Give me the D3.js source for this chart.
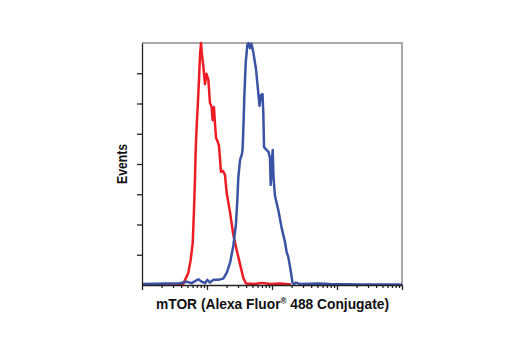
<!DOCTYPE html>
<html>
<head>
<meta charset="utf-8">
<script src="https://cdn.jsdelivr.net/npm/d3@7"></script>
<style>
  body { margin: 0; background: #fff; }
  svg { display: block; }
</style>
</head>
<body>
<div id="chart"></div>
<script>
// red histogram (control), fluorescence intensity vs events
var redX = [1, 4.27, 5.15, 5.61, 6.03, 6.31, 6.54, 6.70, 6.95, 7.19, 7.53, 7.80, 8.09, 8.38, 8.77, 9.31, 9.82,
  10.5, 11.1, 11.8, 12.2, 12.8, 13.3, 13.8, 14.5, 15.3, 15.8, 16.4, 17.6, 18.9, 20.1, 22.6, 25.4, 28.6,
  32.2, 36.2, 39.8, 54.7, 70.2, 93.1, 133, 196];
var redY = [0.2, 0.2, 4.0, 8.3, 13.9, 24.8, 35.7, 44.6, 52.9, 58.8, 67.8, 76.0, 80, 76.0, 72.4, 66.4, 69.8,
  67.8, 60.2, 58.8, 54.5, 58.8, 52.9, 48.6, 47.6, 46.0, 42.0, 37.4, 37.7, 36.4, 30.4, 24.1, 16.5, 11.6,
  6.9, 2.3, 0.5, 0.3, 0.7, 0.3, 0.5, 0.2];

// blue histogram (mTOR Alexa Fluor 488)
var blueX = [1, 3.84, 4.87, 5.82, 7.35, 8.28, 9.31, 10.1, 11.1, 12.5, 14.9, 17.8, 20.1, 22.6, 25.4, 27.9,
  29.3, 30.3, 32.2, 34.2, 35.2, 36.2, 37.5, 39.4, 41.7, 43.5, 45.9, 48.4, 51.5, 56.7, 60.3, 64.2, 67.7,
  71.4, 73.5, 75.4, 82.9, 88.3, 93.1, 95.5, 98.9, 102.5, 105.5, 111.3, 125, 141, 158.5, 168, 178, 193,
  207, 218, 234, 270, 510, 780, 2260, 10000];
var blueY = [0.3, 0.6, 1.1, 0.6, 1.9, 1.1, 0.6, 1.7, 0.8, 1.7, 1.7, 2.1, 4.0, 7.3, 12.9, 20.2,
  28.1, 35.4, 41.3, 43.0, 44.6, 51.2, 62.1, 73.4, 79.3, 80, 78.3, 79.7, 77.0, 71.4, 65.5, 59.2, 62.8,
  63.1, 56.9, 45.6, 44.6, 44.0, 42.0, 33.1, 39.7, 44.6, 35.4, 29.4, 24.8, 18.8, 14.2, 10.9, 9.3, 5.0,
  0.7, 0.3, 0.8, 0.3, 0.5, 0.3, 0.2, 0.2];

var yTicks = [10, 20, 30, 40, 50, 60, 70];

var margin = {top: 43, right: 118, bottom: 65, left: 142},
    width = 520 - margin.left - margin.right,
    height = 350 - margin.top - margin.bottom;

var svg = d3.select("#chart")
  .append("svg")
    .attr("width", 520)
    .attr("height", 350)
  .append("g")
    .attr("transform", "translate(" + margin.left + "," + margin.top + ")");

var x = d3.scaleLog()
    .domain([1, 10000])
    .range([0, width]);

var y = d3.scaleLinear()
    .domain([0, 80])
    .range([height, 0]);

// frame top + right in grey
svg.append("path")
    .attr("d", "M0,0H" + width + "V" + height)
    .attr("fill", "none")
    .attr("stroke", "#8c8c8c")
    .attr("stroke-width", 1.5);

var line = d3.line()
    .x(function(d) { return x(d[0]); })
    .y(function(d) { return y(d[1]); });

svg.append("path")
    .datum(redX.map(function(v, i) { return [v, redY[i]]; }))
    .attr("fill", "none")
    .attr("stroke", "#ed1c24")
    .attr("stroke-width", 2.5)
    .attr("stroke-linejoin", "round")
    .attr("d", line);

svg.append("path")
    .datum(blueX.map(function(v, i) { return [v, blueY[i]]; }))
    .attr("fill", "none")
    .attr("stroke", "#3a53a4")
    .attr("stroke-width", 2.5)
    .attr("stroke-linejoin", "round")
    .attr("d", line);

// y axis
var yAxis = svg.append("g")
    .call(d3.axisLeft(y).tickValues(yTicks).tickSize(5).tickSizeOuter(0).tickFormat(""));

// x axis, log ticks, decades longer
var xAxis = svg.append("g")
    .attr("transform", "translate(0," + height + ")")
    .call(d3.axisBottom(x).tickSize(3).tickSizeOuter(0).tickFormat(""));
xAxis.selectAll(".tick line")
    .attr("y2", function(d) { return Math.abs(Math.log10(d) % 1) < 1e-9 ? 5 : 3; });

svg.selectAll(".domain, .tick line")
    .attr("stroke", "#222")
    .attr("stroke-width", 1.3);

// axis labels
svg.append("text")
    .attr("transform", "translate(-15," + (height / 2) + ") rotate(-90)")
    .attr("text-anchor", "middle")
    .attr("textLength", 40)
    .attr("lengthAdjust", "spacingAndGlyphs")
    .style("font-family", "'Liberation Sans', Arial, sans-serif")
    .style("font-weight", "bold")
    .style("font-size", "14px")
    .style("fill", "#111")
    .text("Events");

var xl = svg.append("text")
    .attr("x", width / 2 + 0.5)
    .attr("y", height + 24)
    .attr("text-anchor", "middle")
    .attr("textLength", 233)
    .attr("lengthAdjust", "spacingAndGlyphs")
    .style("font-family", "'Liberation Sans', Arial, sans-serif")
    .style("font-weight", "bold")
    .style("font-size", "14.5px")
    .style("fill", "#111");
xl.append("tspan").text("mTOR (Alexa Fluor");
xl.append("tspan").attr("dy", -5).style("font-size", "8.5px").text("®");
xl.append("tspan").attr("dy", 5).text(" 488 Conjugate)");
</script>
</body>
</html>
